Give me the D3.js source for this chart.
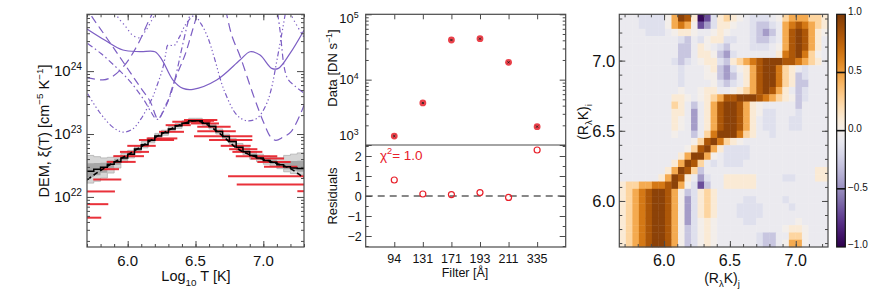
<!DOCTYPE html>
<html>
<head>
<meta charset="utf-8">
<script src="https://cdn.jsdelivr.net/npm/d3@7/dist/d3.min.js"></script>
<style>
  body { margin: 0; background: #fff; }
  svg { display: block; font-family: "Liberation Sans", Arial, Helvetica, sans-serif; }
</style>
</head>
<body>
<svg id="chart" width="872" height="291"></svg>
<script>
// ---------- Panel 1 data: EM loci, [log10 T, log10 EM] ----------
const locusSolid = [[5.70,24.67],[5.833,24.49],[5.965,24.335],[6.091,24.31],[6.201,24.308],[6.253,24.18],[6.334,23.858],[6.408,23.725],[6.482,23.71],[6.656,23.858],[6.828,24.176],[6.902,24.308],[6.976,24.255],[7.062,24.044],[7.111,24.044],[7.197,24.282],[7.30,24.65]];
const locus131Cool = [[5.693,23.90],[5.818,23.86],[5.877,23.90],[5.951,24.03],[6.01,24.19],[6.083,24.46],[6.157,24.81],[6.187,24.94],[6.201,25.05]];
const locus131Hot = [[6.70,25.2],[6.735,24.85],[6.77,24.55],[6.828,24.24],[6.931,23.59],[7.005,23.17],[7.055,22.95],[7.092,22.90],[7.145,22.95],[7.202,23.03],[7.276,23.33],[7.30,23.46]];
const locus193 = [[5.693,25.05],[5.729,24.89],[5.796,24.68],[5.870,24.45],[5.943,24.22],[6.017,23.985],[6.091,23.75],[6.165,23.52],[6.221,23.24],[6.238,23.27],[6.29,23.48],[6.327,23.73],[6.371,23.985],[6.423,24.26],[6.467,24.57],[6.504,24.84],[6.519,24.94],[6.533,25.05]];
const locus211 = [[5.705,24.44],[5.803,24.28],[5.901,24.09],[5.963,23.96],[6.012,23.85],[6.061,23.72],[6.123,23.53],[6.172,23.35],[6.209,23.24],[6.231,23.24],[6.268,23.41],[6.312,23.60],[6.356,23.94],[6.393,24.30],[6.43,24.65],[6.46,24.91],[6.474,25.05]];
const locus211Hot = [[7.094,25.13],[7.123,24.65],[7.175,23.90],[7.234,23.76],[7.30,23.65]];
const locus171 = [[5.705,23.64],[5.791,23.35],[5.890,23.11],[5.963,23.03],[6.037,23.08],[6.098,23.24],[6.148,23.43],[6.185,23.59],[6.221,23.80],[6.258,24.04],[6.283,24.30],[6.295,24.41],[6.344,24.41],[6.381,24.54],[6.430,24.75],[6.491,24.88],[6.541,24.75],[6.590,24.54],[6.639,24.21],[6.71,23.70],[6.806,23.30],[6.88,23.21],[6.954,23.25],[7.02,23.46],[7.057,23.70],[7.101,24.18],[7.145,24.70],[7.167,24.97],[7.182,25.13]];
const locus94Cool = [[5.899,25.13],[5.914,24.91],[5.988,24.70],[6.037,24.57],[6.086,24.53],[6.135,24.65],[6.185,24.84],[6.209,24.94],[6.225,25.13]];
const locus94Hot = [[7.19,25.13],[7.204,24.91],[7.30,24.54]];

// DEM temperature bins (centres) and log10 DEM values
const demT = [5.725,5.775,5.825,5.875,5.925,5.975,6.025,6.075,6.125,6.175,6.225,6.275,6.325,6.375,6.425,6.475,
              6.525,6.575,6.625,6.675,6.725,6.775,6.825,6.875,6.925,6.975,7.025,7.075,7.125,7.175,7.225,7.275];
const demLog = [22.41,22.44,22.47,22.52,22.56,22.62,22.68,22.76,22.83,22.90,22.97,23.02,23.08,23.13,23.17,23.21,
                23.21,23.17,23.12,23.04,22.96,22.88,22.79,22.72,22.66,22.62,22.58,22.55,22.51,22.48,22.46,22.45];
const mcLow = [22.22,22.25,22.30,22.38,22.46,22.55,22.62,22.70,22.78,22.86,22.93,22.98,23.04,23.09,23.14,23.18,
               23.18,23.14,23.08,23.00,22.92,22.83,22.74,22.67,22.60,22.56,22.52,22.49,22.45,22.40,22.37,22.35];
const mcHigh = [22.66,22.64,22.62,22.63,22.65,22.69,22.74,22.81,22.88,22.94,23.01,23.06,23.12,23.17,23.21,23.25,
                23.25,23.21,23.16,23.08,23.00,22.93,22.85,22.78,22.72,22.68,22.65,22.63,22.62,22.66,22.68,22.70];
const modelT = [5.7,5.8,5.9,6.0,6.1,6.2,6.3,6.4,6.5,6.6,6.7,6.8,6.9,7.0,7.1,7.2,7.3];
const modelLog = [22.27,22.42,22.55,22.67,22.80,22.94,23.06,23.16,23.21,23.13,22.97,22.78,22.67,22.60,22.53,22.45,22.30];

// horizontal (temperature) error bars
const barLo = [5.70,5.70,5.70,5.746,5.796,5.845,5.894,5.943,5.997,6.083,6.140,6.231,6.28,6.329,6.415,6.489,
               6.465,6.513,6.513,6.489,6.60,6.686,6.748,6.772,6.797,6.907,6.956,7.005,6.74,6.804,7.251];
const barHi = [5.805,5.857,5.906,5.953,5.936,6.059,6.120,6.157,6.207,6.342,6.366,6.415,6.465,6.612,6.661,6.637,
               6.673,6.759,6.797,6.919,6.919,6.907,6.956,6.993,7.103,7.153,7.202,7.251,7.30,7.30,7.30];
const barLog = [21.67,21.885,22.087,22.277,22.441,22.557,22.648,22.716,22.812,22.903,22.93,23.035,23.141,23.194,23.221,23.21,
                23.168,23.114,23.046,22.966,22.903,22.812,22.759,22.716,22.648,22.61,22.557,22.478,22.33,22.198,22.091];

// ---------- Panel 2 data ----------
const filters = ['94', '131', '171', '193', '211', '335'];
const dataRate = [1370, 4400, 40400, 42300, 18400, 1910];
const residuals = [0.8, 0.1, 0.07, 0.17, -0.07, 2.3];
const chiSq = '1.0';

// ---------- Panel 3 data: correlation matrix, top row first, coded levels ----------
const levelCodes = { z: -0.95, y: -0.7, x: -0.45, w: -0.28, v: -0.15, '.': -0.07, '0': 0,
                     a: 0.1, b: 0.25, c: 0.45, d: 0.65, e: 0.82, f: 0.95 };
const corrRows = [
  '...vvvv0cfeazyvaba0.vvv.0bcccbba',
  '...vvvv0cdc0yxvaa0..vwwv.cdedcba',
  '....vvv.0aa0..0a0...vwxw.cefeca0',
  '.........vw.v0aavv..vwwv.cefeca.',
  '.........ww.a0.vw...vvv.0cefeca.',
  '.........ww.aa0wxv......adefdb0.',
  '........vwv.0aavwabcdefffeedcba.',
  '.........v...0awxv0aceffdba.v...',
  '.........v...00wxw.aceffdbawv...',
  '.........v....0vwv.aceffdbaww...',
  '.........0..0aa..0abcefeca.wv...',
  '........aa0.0abceefffedcba0wv...',
  '........ba.w.aceffeca0.....w....',
  '........aa.x.aceffeca0vv...v....',
  '........a0.x.aceffeca.vv..vv....',
  '........a0.x.aceffeca.vv..vv....',
  '........0..w.bdfffdba..v........',
  '...........0befdba0.............',
  '..........0befcavvvv............',
  '.........acffc0.vvvv............',
  '........acfeb.v.vvv.............',
  '.......acfebw.................aa',
  '......acfea.xv..aaaaa....vv...aa',
  'abbccddefc0vyw..aaaaa...........',
  'abcdeffec0wvaba.................',
  'abcdeffec0xvaba....vv....v......',
  'abcdeffec0xvaba...vvvv....v.....',
  'abcdeffec0xvaba...vvvv..........',
  'abcdeffec0xv0a0....vv......0....',
  'abcdeffec0wv0a0..........0aa0...',
  'abcdeffec0wv0a0......vww..bb0...',
  'abcdeffec0wv0a0......vww.0cc0...'
];
const colorbarLabels = ['1.0', '0.5', '0.0', '\u22120.5', '\u22121.0'];

// ---------- layout ----------
const P1 = { l: 87, r: 304, t: 14.3, b: 247 };
const P2 = { l: 365.7, r: 565.7, t: 14.3, m: 145, b: 247 };
const P3 = { l: 619.3, r: 828, t: 14.3, b: 247 };
const CB = { l: 836.7, r: 845.3, t: 14.3, b: 247 };
const ink = '#4a4a4a';
const purple = '#7d5fc4';
const red = '#e8202a';
const binHalf = 0.025;
const pow10 = v => Math.pow(10, v);

const svg = d3.select('#chart');

// text with super/subscripts; parts = [[text, 'sup'|'sub'|undefined], ...]
function rich(sel, parts, fs) {
  let shift = 0;
  parts.forEach(([t, kind]) => {
    const target = kind === 'sup' ? -0.42 * fs : kind === 'sub' ? 0.32 * fs : 0;
    sel.append('tspan').attr('dy', target - shift)
      .attr('font-size', kind ? fs * 0.68 : fs).text(t);
    shift = target;
  });
  return sel;
}

// inward tick marks, no labels, domain line removed
function tickRow(g, axis, tx, ty) {
  g.append('g').attr('transform', `translate(${tx},${ty})`)
    .call(axis.tickFormat(''))
    .call(s => s.select('.domain').remove())
    .call(s => s.selectAll('line').attr('stroke', ink).attr('stroke-width', 1));
}

function frame(g, box) {
  g.append('rect').attr('x', box.l).attr('y', box.t)
    .attr('width', box.r - box.l).attr('height', box.b - box.t)
    .attr('fill', 'none').attr('stroke', ink).attr('stroke-width', 1.2);
}

// =================== Panel 1 ===================
const x1 = d3.scaleLinear().domain([5.7, 7.3]).range([P1.l, P1.r]);
const y1 = d3.scaleLog().domain([1.6e21, 8e24]).range([P1.b, P1.t]);
const g1 = svg.append('g');
g1.append('clipPath').attr('id', 'clip1').append('rect')
  .attr('x', P1.l).attr('y', P1.t).attr('width', P1.r - P1.l).attr('height', P1.b - P1.t);
const plot1 = g1.append('g').attr('clip-path', 'url(#clip1)');

const lociLine = d3.line().x(d => x1(d[0])).y(d => y1(pow10(d[1]))).curve(d3.curveCatmullRom);
const loci = [
  { pts: locusSolid, dash: null },
  { pts: locus131Cool, dash: '9,5' },
  { pts: locus131Hot, dash: '9,5' },
  { pts: locus193, dash: '8,4.5' },
  { pts: locus211, dash: '6,3,1.5,3' },
  { pts: locus211Hot, dash: '6,3,1.5,3' },
  { pts: locus171, dash: '5,2.5,1.3,2.5,1.3,2.5,1.3,2.5' },
  { pts: locus94Cool, dash: '1.3,3' },
  { pts: locus94Hot, dash: '1.3,3' }
];
plot1.selectAll('path.locus').data(loci).join('path')
  .attr('class', 'locus')
  .attr('d', d => lociLine(d.pts))
  .attr('fill', 'none').attr('stroke', purple).attr('stroke-width', 1.2)
  .attr('stroke-dasharray', d => d.dash);

// Monte-Carlo spread as grey staircases
const bandPts = demT.flatMap((t, i) => [[t - binHalf, i], [t + binHalf, i]]);
const bandArea = (lo, hi) => d3.area().x(d => x1(d[0]))
  .y0(d => y1(pow10(lo(d[1])))).y1(d => y1(pow10(hi(d[1]))));
plot1.append('path').attr('d', bandArea(i => mcLow[i], i => mcHigh[i])(bandPts))
  .attr('fill', '#d6d6d6').attr('stroke', '#b0b0b0').attr('stroke-width', 0.8);
plot1.append('path').attr('d', bandArea(i => (mcLow[i] + demLog[i]) / 2, i => (mcHigh[i] + demLog[i]) / 2)(bandPts))
  .attr('fill', '#a6a6a6');

// red temperature error bars
plot1.selectAll('line.tbar').data(barLog).join('line')
  .attr('class', 'tbar')
  .attr('x1', (d, i) => x1(barLo[i])).attr('x2', (d, i) => x1(barHi[i]))
  .attr('y1', d => y1(pow10(d))).attr('y2', d => y1(pow10(d)))
  .attr('stroke', red).attr('stroke-width', 2).attr('opacity', 0.92);

// DEM solution staircase + model
const stepLine = d3.line().x(d => x1(d[0])).y(d => y1(pow10(demLog[d[1]])));
plot1.append('path').attr('d', stepLine(bandPts))
  .attr('fill', 'none').attr('stroke', '#000').attr('stroke-width', 1.5);
plot1.append('path')
  .attr('d', d3.line().x((d, i) => x1(modelT[i])).y(d => y1(pow10(d))).curve(d3.curveMonotoneX)(modelLog))
  .attr('fill', 'none').attr('stroke', '#000').attr('stroke-width', 1.6).attr('stroke-dasharray', '5,3');

// axes panel 1
const x1Minor = d3.range(57, 74).map(d => d / 10);
const x1Major = [6.0, 6.5, 7.0];
const y1Major = [1e22, 1e23, 1e24];
const y1Minor = y1.ticks().filter(v => !y1Major.includes(v));
tickRow(g1, d3.axisBottom(x1).tickValues(x1Minor).tickSize(-3), 0, P1.b);
tickRow(g1, d3.axisTop(x1).tickValues(x1Minor).tickSize(-3), 0, P1.t);
tickRow(g1, d3.axisBottom(x1).tickValues(x1Major).tickSize(-6), 0, P1.b);
tickRow(g1, d3.axisTop(x1).tickValues(x1Major).tickSize(-6), 0, P1.t);
tickRow(g1, d3.axisLeft(y1).tickValues(y1Minor).tickSize(-3), P1.l, 0);
tickRow(g1, d3.axisRight(y1).tickValues(y1Minor).tickSize(-3), P1.r, 0);
tickRow(g1, d3.axisLeft(y1).tickValues(y1Major).tickSize(-7), P1.l, 0);
tickRow(g1, d3.axisRight(y1).tickValues(y1Major).tickSize(-7), P1.r, 0);
frame(g1, P1);

g1.selectAll('text.xl').data(x1Major).join('text')
  .attr('x', d => x1(d)).attr('y', 266).attr('text-anchor', 'middle')
  .attr('font-size', 15).attr('fill', '#111').text(d3.format('.1f'));
g1.selectAll('text.yl').data(y1Major).join('text')
  .attr('x', P1.l - 5).attr('y', d => y1(d) + 5).attr('text-anchor', 'end').attr('fill', '#111')
  .each(function (d) { rich(d3.select(this), [['10'], [String(Math.round(Math.log10(d))), 'sup']], 15); });
rich(g1.append('text').attr('x', 196).attr('y', 281).attr('text-anchor', 'middle').attr('fill', '#111'),
  [['Log'], ['10', 'sub'], [' T [K]']], 14.5);
rich(g1.append('text').attr('transform', 'translate(49,131) rotate(-90)').attr('text-anchor', 'middle').attr('fill', '#111'),
  [['DEM, \u03be(T) [cm'], ['\u22125', 'sup'], [' K'], ['\u22121', 'sup'], [']']], 14.5);

// =================== Panel 2 ===================
const x2 = d3.scaleLinear().domain([0, filters.length + 1]).range([P2.l, P2.r]);
const y2 = d3.scaleLog().domain([1e3, 1e5]).range([P2.m, P2.t]);
const y2r = d3.scaleLinear().domain([-2.55, 2.55]).range([P2.b, P2.m]);
const g2 = svg.append('g');

g2.append('line').attr('x1', P2.l).attr('x2', P2.r).attr('y1', y2r(0)).attr('y2', y2r(0))
  .attr('stroke', '#111').attr('stroke-width', 1.2).attr('stroke-dasharray', '7,5');

const pts2 = g2.selectAll('g.obs').data(dataRate).join('g')
  .attr('transform', (d, i) => `translate(${x2(i + 1)},${y2(d)})`);
pts2.append('circle').attr('r', 3.4).attr('fill', red).attr('opacity', 0.85);
pts2.append('path').attr('d', d3.symbol(d3.symbolX, 3.5)).attr('stroke', '#222').attr('stroke-width', 0.9).attr('fill', 'none');

g2.selectAll('circle.res').data(residuals).join('circle')
  .attr('class', 'res').attr('cx', (d, i) => x2(i + 1)).attr('cy', d => y2r(d)).attr('r', 3)
  .attr('fill', 'none').attr('stroke', red).attr('stroke-width', 1.2);

const xIdx = filters.map((f, i) => i + 1);
tickRow(g2, d3.axisBottom(x2).tickValues(xIdx).tickSize(-5), 0, P2.b);
tickRow(g2, d3.axisTop(x2).tickValues(xIdx).tickSize(-5), 0, P2.t);
const y2Major = [1e3, 1e4, 1e5];
const y2Minor = y2.ticks().filter(v => !y2Major.includes(v));
tickRow(g2, d3.axisLeft(y2).tickValues(y2Minor).tickSize(-3), P2.l, 0);
tickRow(g2, d3.axisRight(y2).tickValues(y2Minor).tickSize(-3), P2.r, 0);
tickRow(g2, d3.axisLeft(y2).tickValues(y2Major).tickSize(-6), P2.l, 0);
tickRow(g2, d3.axisRight(y2).tickValues(y2Major).tickSize(-6), P2.r, 0);
const rMajor = [-2, -1, 0, 1, 2];
const rMinor = [-2.5, -1.5, -0.5, 0.5, 1.5, 2.5];
tickRow(g2, d3.axisLeft(y2r).tickValues(rMinor).tickSize(-3), P2.l, 0);
tickRow(g2, d3.axisRight(y2r).tickValues(rMinor).tickSize(-3), P2.r, 0);
tickRow(g2, d3.axisLeft(y2r).tickValues(rMajor).tickSize(-6), P2.l, 0);
tickRow(g2, d3.axisRight(y2r).tickValues(rMajor).tickSize(-6), P2.r, 0);
frame(g2, P2);
g2.append('line').attr('x1', P2.l).attr('x2', P2.r).attr('y1', P2.m).attr('y2', P2.m)
  .attr('stroke', ink).attr('stroke-width', 1.2);

g2.selectAll('text.xl').data(filters).join('text')
  .attr('x', (d, i) => x2(i + 1)).attr('y', 263).attr('text-anchor', 'middle')
  .attr('font-size', 12.5).attr('fill', '#111').text(d => d);
const y2LabelY = [140, 84, 23];
g2.selectAll('text.yl').data(y2Major).join('text')
  .attr('x', P2.l - 7).attr('y', (d, i) => y2LabelY[i]).attr('text-anchor', 'end').attr('fill', '#111')
  .each(function (d) { rich(d3.select(this), [['10'], [String(Math.round(Math.log10(d))), 'sup']], 13); });
g2.selectAll('text.rl').data(rMajor).join('text')
  .attr('x', P2.l - 4).attr('y', d => y2r(d) + 4.5).attr('text-anchor', 'end')
  .attr('font-size', 12.5).attr('fill', '#111').text(d => d < 0 ? '\u2212' + Math.abs(d) : d);
rich(g2.append('text').attr('x', 380).attr('y', 160).attr('fill', red),
  [['\u03c7'], ['2', 'sup'], ['= ' + chiSq]], 13.5);
g2.append('text').attr('x', 465).attr('y', 277).attr('text-anchor', 'middle')
  .attr('font-size', 12.5).attr('fill', '#111').text('Filter [\u00c5]');
rich(g2.append('text').attr('transform', 'translate(337,68) rotate(-90)').attr('text-anchor', 'middle').attr('fill', '#111'),
  [['Data [DN s'], ['\u22121', 'sup'], [']']], 13);
g2.append('text').attr('transform', 'translate(337,196) rotate(-90)').attr('text-anchor', 'middle')
  .attr('font-size', 13).attr('fill', '#111').text('Residuals');

// =================== Panel 3 ===================
const n3 = corrRows.length;
const cx = d3.scaleBand().domain(d3.range(n3)).range([P3.l, P3.r]);
const cy = d3.scaleBand().domain(d3.range(n3)).range([P3.t, P3.b]);
const x3 = d3.scaleLinear().domain([5.66, 7.245]).range([P3.l, P3.r]);
const y3 = d3.scaleLinear().domain([5.672, 7.33]).range([P3.b, P3.t]);
const corrColor = v => d3.interpolatePuOr((v + 1) / 2);
const g3 = svg.append('g');

const cells = corrRows.flatMap((row, r) => row.split('').map((ch, c) => ({ r, c, v: levelCodes[ch] })));
g3.selectAll('rect.cell').data(cells).join('rect')
  .attr('x', d => cx(d.c)).attr('y', d => cy(d.r))
  .attr('width', cx.bandwidth() + 0.4).attr('height', cy.bandwidth() + 0.4)
  .attr('fill', d => corrColor(d.v));

const t3Minor = d3.range(57, 74).map(d => d / 10);
const t3Major = [6.0, 6.5, 7.0];
tickRow(g3, d3.axisBottom(x3).tickValues(t3Minor.filter(v => v <= 7.245)).tickSize(-3), 0, P3.b);
tickRow(g3, d3.axisTop(x3).tickValues(t3Minor.filter(v => v <= 7.245)).tickSize(-3), 0, P3.t);
tickRow(g3, d3.axisBottom(x3).tickValues(t3Major).tickSize(-6), 0, P3.b);
tickRow(g3, d3.axisTop(x3).tickValues(t3Major).tickSize(-6), 0, P3.t);
tickRow(g3, d3.axisLeft(y3).tickValues(t3Minor).tickSize(-3), P3.l, 0);
tickRow(g3, d3.axisRight(y3).tickValues(t3Minor).tickSize(-3), P3.r, 0);
tickRow(g3, d3.axisLeft(y3).tickValues(t3Major).tickSize(-6), P3.l, 0);
tickRow(g3, d3.axisRight(y3).tickValues(t3Major).tickSize(-6), P3.r, 0);
frame(g3, P3);

g3.selectAll('text.xl').data(t3Major).join('text')
  .attr('x', d => x3(d)).attr('y', 265.5).attr('text-anchor', 'middle')
  .attr('font-size', 16).attr('fill', '#111').text(d3.format('.1f'));
g3.selectAll('text.yl').data(t3Major).join('text')
  .attr('x', P3.l - 4).attr('y', d => y3(d) + 6).attr('text-anchor', 'end')
  .attr('font-size', 16.5).attr('fill', '#111').text(d3.format('.1f'));
rich(g3.append('text').attr('x', 722).attr('y', 283).attr('text-anchor', 'middle').attr('fill', '#111'),
  [['(R'], ['\u03bb', 'sub'], ['K)'], ['j', 'sub']], 14);
rich(g3.append('text').attr('transform', 'translate(588,122) rotate(-90)').attr('text-anchor', 'middle').attr('fill', '#111'),
  [['(R'], ['\u03bb', 'sub'], ['K)'], ['i', 'sub']], 14);

// colorbar
const yc = d3.scaleLinear().domain([-1, 1]).range([CB.b, CB.t]);
const grad = svg.append('defs').append('linearGradient').attr('id', 'cbar')
  .attr('x1', 0).attr('y1', 1).attr('x2', 0).attr('y2', 0);
grad.selectAll('stop').data(d3.range(0, 1.0001, 0.05)).join('stop')
  .attr('offset', d => d).attr('stop-color', d => d3.interpolatePuOr(d));
svg.append('rect').attr('x', CB.l).attr('y', CB.t).attr('width', CB.r - CB.l).attr('height', CB.b - CB.t)
  .attr('fill', 'url(#cbar)').attr('stroke', '#111').attr('stroke-width', 1.2);
const cbValues = [1, 0.5, 0, -0.5, -1];
svg.selectAll('line.cbl').data([0.5, 0, -0.5]).join('line')
  .attr('x1', CB.l).attr('x2', CB.r).attr('y1', d => yc(d)).attr('y2', d => yc(d))
  .attr('stroke', '#111').attr('stroke-width', 1.6);
svg.selectAll('text.cbt').data(cbValues).join('text')
  .attr('x', 848).attr('y', (d, i) => yc(d) + [1, 2, 1, 2, 1][i])
  .attr('font-size', 10).attr('fill', '#111').text((d, i) => colorbarLabels[i]);
</script>
</body>
</html>
